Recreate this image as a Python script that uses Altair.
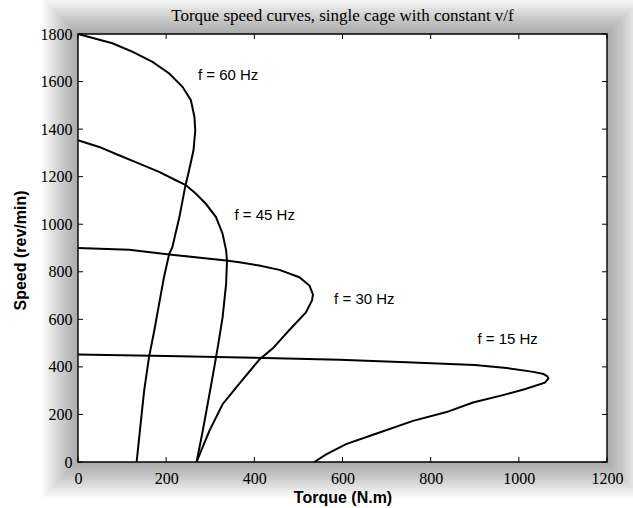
import altair as alt
import pandas as pd

title_text = "Torque speed curves, single cage with constant v/f"
x_title = "Torque (N.m)"
y_title = "Speed (rev/min)"
x_ticks = [0, 200, 400, 600, 800, 1000, 1200]
y_ticks = [0, 200, 400, 600, 800, 1000, 1200, 1400, 1600, 1800]

torque_60 = [0, 78, 123, 169, 207, 237, 256, 264, 266, 262, 252, 243, 230, 214, 207, 195, 184, 173, 161, 150, 142, 133]
speed_60 = [1800, 1761, 1726, 1683, 1634, 1578, 1522, 1452, 1395, 1311, 1227, 1156, 1030, 903, 876, 777, 665, 552, 440, 299, 159, 0]

torque_45 = [0, 48, 93, 139, 184, 222, 245, 267, 290, 313, 328, 336, 338, 336, 328, 317, 305, 294, 283, 269]
speed_45 = [1353, 1325, 1290, 1255, 1220, 1185, 1164, 1129, 1086, 1030, 960, 890, 847, 749, 608, 482, 355, 243, 131, 0]

torque_30 = [0, 116, 207, 336, 366, 411, 457, 502, 525, 533, 531, 517, 480, 442, 411, 366, 328, 298, 279, 269]
speed_30 = [900, 893, 873, 847, 840, 826, 808, 777, 742, 705, 680, 629, 556, 478, 430, 330, 243, 131, 46, 0]

torque_15 = [0, 200, 400, 593, 745, 900, 972, 1033, 1056, 1065, 1067, 1059, 1013, 957, 896, 836, 760, 684, 608, 563, 536]
speed_15 = [452, 446, 438, 430, 419, 408, 395, 379, 370, 360, 351, 334, 306, 278, 250, 210, 173, 124, 75, 32, 0]

labels = ["f = 60 Hz", "f = 45 Hz", "f = 30 Hz", "f = 15 Hz"]
label_torque = [272, 355, 581, 906]
label_speed = [1606, 1018, 663, 496]

W, H = 529, 428

rows = []
for name, tq, sp in [("60", torque_60, speed_60), ("45", torque_45, speed_45),
                     ("30", torque_30, speed_30), ("15", torque_15, speed_15)]:
    for i, (t, s) in enumerate(zip(tq, sp)):
        rows.append({"curve": name, "i": i, "torque": t, "speed": s})
df = pd.DataFrame(rows)
df_lab = pd.DataFrame({"label": labels, "torque": label_torque, "speed": label_speed})
one = pd.DataFrame({"k": [0]})
xt = pd.DataFrame({"torque": x_ticks})
yt = pd.DataFrame({"speed": y_ticks})

xscale = alt.Scale(domain=[0, 1200], nice=False, zero=False)
yscale = alt.Scale(domain=[0, 1800], nice=False, zero=False)

serif = "Liberation Serif"
sans = "Liberation Sans"

x_axis = alt.Axis(values=x_ticks, format="d", title=x_title, ticks=False, tickSize=0,
                  domain=False, grid=False, labelFont=serif, labelFontSize=16,
                  labelColor="black", labelPadding=8, labelFlush=False,
                  titleFont=sans, titleFontSize=16, titleFontWeight="bold",
                  titleColor="black", titleX=W / 2, titleY=40,
                  titleBaseline="alphabetic", titleAlign="center")
y_axis = alt.Axis(values=y_ticks, format="d", title=y_title, ticks=False, tickSize=0,
                  domain=False, grid=False, labelFont=serif, labelFontSize=16,
                  labelColor="black", labelPadding=6, labelFlush=False,
                  titleFont=sans, titleFontSize=16, titleFontWeight="bold",
                  titleColor="black", titleX=-53, titleY=216, titleAngle=270,
                  titleBaseline="alphabetic", titleAlign="center")

X = alt.X("torque:Q", scale=xscale, axis=x_axis)
Y = alt.Y("speed:Q", scale=yscale, axis=y_axis)

# soft drop shadow around the plot box
shadow_layers = [
    alt.Chart(one).mark_rect(color="#000000", opacity=0.02).encode(
        x=alt.value(-d), x2=alt.value(W + d), y=alt.value(-d), y2=alt.value(H + d))
    for d in range(2, 38, 2)
]

white_bg = alt.Chart(one).mark_rect(color="white").encode(
    x=alt.value(0), x2=alt.value(W), y=alt.value(0), y2=alt.value(H))

lines = alt.Chart(df).mark_line(color="black", strokeWidth=2).encode(
    x=X, y=Y, detail="curve:N", order="i:Q")

tick_bottom = alt.Chart(xt).mark_rule(color="black", strokeWidth=1).encode(
    x=X, y=alt.value(H), y2=alt.value(H - 5))
tick_top = alt.Chart(xt).mark_rule(color="black", strokeWidth=1).encode(
    x=X, y=alt.value(0), y2=alt.value(5))
tick_left = alt.Chart(yt).mark_rule(color="black", strokeWidth=1).encode(
    y=Y, x=alt.value(0), x2=alt.value(5))
tick_right = alt.Chart(yt).mark_rule(color="black", strokeWidth=1).encode(
    y=Y, x=alt.value(W), x2=alt.value(W - 5))

box = alt.Chart(one).mark_rect(fillOpacity=0, stroke="black", strokeWidth=1.4).encode(
    x=alt.value(0), x2=alt.value(W), y=alt.value(0), y2=alt.value(H))

annot = alt.Chart(df_lab).mark_text(align="left", baseline="alphabetic", font=sans,
                                    fontSize=15, color="black").encode(
    x=X, y=Y, text="label:N")

title_mark = alt.Chart(one).mark_text(align="center", baseline="alphabetic", font=serif,
                                      fontSize=17, color="black").encode(
    x=alt.value(W / 2), y=alt.value(-13), text=alt.value(title_text))

chart = alt.layer(
    *shadow_layers, white_bg, lines, tick_bottom, tick_top, tick_left, tick_right,
    box, annot, title_mark
).properties(
    width=W, height=H,
    autosize=alt.AutoSizeParams(type="none"),
    padding={"left": 78, "top": 34, "right": 633 - 78 - W, "bottom": 508 - 34 - H},
    background="white",
).configure_view(stroke=None)

chart.save("out.html", embed_options={"renderer": "svg", "actions": False})
